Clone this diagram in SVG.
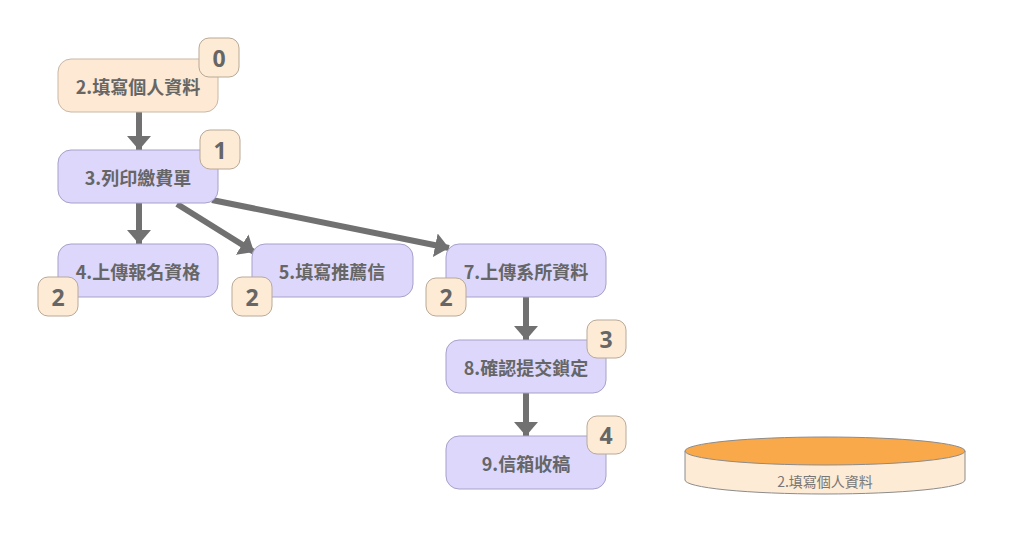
<svg xmlns="http://www.w3.org/2000/svg" width="1024" height="548" viewBox="0 0 1024 548">
<defs>
<style>
.node{stroke-width:1}
.peach{fill:#fde9d4;stroke:#c9b8a6}
.lav{fill:#dcd7fb;stroke:#a8a1c9}
.lbl{font-family:"Noto Sans CJK TC","Noto Sans",sans-serif;font-weight:700;font-size:18px;fill:#666;text-anchor:middle;dominant-baseline:central}
.badge{fill:#fdebd6;stroke:#b9a996;stroke-width:1}
.bnum{font-family:"Noto Sans","Open Sans",sans-serif;font-weight:700;font-size:23px;fill:#666;text-anchor:middle;dominant-baseline:central}
.conn{stroke:#717171;stroke-width:6;fill:none}
</style>
<marker id="ah" markerUnits="userSpaceOnUse" markerWidth="16" markerHeight="24" refX="14" refY="12" orient="auto">
<path d="M0,0 L14,12 L0,24 Z" fill="#717171"/>
</marker>
</defs>
<rect width="1024" height="548" fill="#ffffff"/>
<g id="connectors">
<line class="conn" x1="139" y1="112" x2="139" y2="150" marker-end="url(#ah)"/>
<line class="conn" x1="139" y1="203" x2="139" y2="244" marker-end="url(#ah)"/>
<line class="conn" x1="177" y1="204" x2="254" y2="252" marker-end="url(#ah)"/>
<line class="conn" x1="212" y1="200" x2="449" y2="248" marker-end="url(#ah)"/>
<line class="conn" x1="526" y1="297" x2="526" y2="340" marker-end="url(#ah)"/>
<line class="conn" x1="526" y1="393" x2="526" y2="436" marker-end="url(#ah)"/>
</g>
<g id="n2">
<rect class="node peach" x="58" y="59" width="160" height="53" rx="13"/>
<text class="lbl" x="138" y="86">2.填寫個人資料</text>
<rect class="badge" x="199" y="38" width="40" height="39" rx="10"/>
<text class="bnum" x="219" y="58">0</text>
</g>
<g id="n3">
<rect class="node lav" x="58" y="150" width="160" height="53" rx="13"/>
<text class="lbl" x="138" y="177">3.列印繳費單</text>
<rect class="badge" x="200" y="130" width="40" height="39" rx="10"/>
<text class="bnum" x="220" y="150">1</text>
</g>
<g id="n4">
<rect class="node lav" x="58" y="244" width="160" height="53" rx="13"/>
<text class="lbl" x="138" y="271">4.上傳報名資格</text>
<rect class="badge" x="38" y="277" width="40" height="39" rx="10"/>
<text class="bnum" x="58" y="297">2</text>
</g>
<g id="n5">
<rect class="node lav" x="252" y="244" width="161" height="53" rx="13"/>
<text class="lbl" x="332" y="271">5.填寫推薦信</text>
<rect class="badge" x="232" y="277" width="40" height="39" rx="10"/>
<text class="bnum" x="252" y="297">2</text>
</g>
<g id="n7">
<rect class="node lav" x="446" y="244" width="160" height="53" rx="13"/>
<text class="lbl" x="526" y="271">7.上傳系所資料</text>
<rect class="badge" x="426" y="278" width="40" height="38" rx="10"/>
<text class="bnum" x="446" y="297">2</text>
</g>
<g id="n8">
<rect class="node lav" x="446" y="340" width="160" height="53" rx="13"/>
<text class="lbl" x="526" y="367">8.確認提交鎖定</text>
<rect class="badge" x="587" y="320" width="39" height="38" rx="10"/>
<text class="bnum" x="606" y="339">3</text>
</g>
<g id="n9">
<rect class="node lav" x="446" y="436" width="160" height="53" rx="13"/>
<text class="lbl" x="526" y="463">9.信箱收稿</text>
<rect class="badge" x="587" y="416" width="39" height="38" rx="10"/>
<text class="bnum" x="606" y="435">4</text>
</g>
<g id="cylinder">
<path d="M685,451 L685,480 A140,14 0 0 0 965,480 L965,451 Z" fill="#fdebd5" stroke="#8c8c8c" stroke-width="1"/>
<ellipse cx="825" cy="451" rx="140" ry="14" fill="#f9a94a" stroke="#8c8c8c" stroke-width="1"/>
<text x="825" y="481" font-family="'Noto Sans CJK TC','Noto Sans',sans-serif" font-size="14" fill="#777" text-anchor="middle" dominant-baseline="central">2.填寫個人資料</text>
</g>
</svg>
